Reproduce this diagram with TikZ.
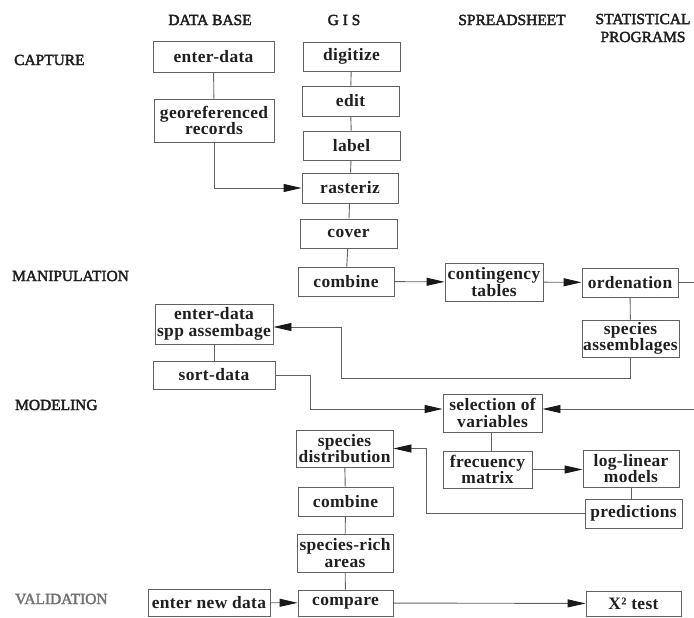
\documentclass[tikz,border=0pt]{standalone}
\usepackage{fontspec}
\setmainfont{Liberation Serif}
\newfontfamily\boxfont{Liberation Serif}[LetterSpace=2, BoldFont={Liberation Serif Bold}]
\newfontfamily\headfont{Liberation Serif}[FakeBold=2.5]
\usetikzlibrary{arrows.meta}
\begin{document}
\begin{tikzpicture}[x=1bp,y=-1bp,
  box/.style={draw=black!62, line width=0.9bp, inner sep=0pt, align=center,
    text=black!88, font=\boxfont\bfseries\fontsize{17.5}{16.8}\selectfont},
  bx/.style 2 args={box, minimum width=#1bp, minimum height=#2bp},
  head/.style={inner sep=0pt, align=center, text=black!88,
    font=\headfont\fontsize{15.5}{18}\selectfont},
  rowlab/.style={head, anchor=west},
  link/.style={draw=black!62, line width=0.9bp},
  arr/.style={link, -{Triangle[length=18bp,width=8bp,color=black!90]}}
]
\useasboundingbox (0,0) rectangle (694,618);
\clip (0,0) rectangle (694,618);

% column headings
\node[head] (hdb)  at (210,20) {DATA BASE};
\node[head] (hgis) at (344,20) {G I S};
\node[head] (hss)  at (512,20) {SPREADSHEET};
\node[head] (hst)  at (643,28) {STATISTICAL\\PROGRAMS};

% stage labels
\node[rowlab] (rcap) at (14,60)  {CAPTURE};
\node[rowlab] (rman) at (12,276) {MANIPULATION};
\node[rowlab] (rmod) at (15,405) {MODELING};
\node[rowlab, text=black!55] (rval) at (15,599) {VALIDATION};

% data base column
\node[bx={121}{31}] (ed1)  at (213.5,56.5) {enter-data};
\node[bx={120}{43}] (geo)  at (214,120.5)  {georeferenced\\records};
\node[bx={118}{40}] (eds)  at (214,324)    {enter-data\\spp assembage};
\node[bx={122}{28}] (sort) at (214,375)    {sort-data};
\node[bx={122}{27}] (enew) at (209,602.5)  {enter new data};

% GIS column
\node[bx={97}{29}] (dig)   at (351.5,56.5) {digitize};
\node[bx={97}{30}] (edit)  at (350.5,101)  {edit};
\node[bx={97}{29}] (lab)   at (351.5,145.5){label};
\node[bx={96}{30}] (rast)  at (350,188)    {rasteriz};
\node[bx={97}{29}] (cov)   at (348.5,233.5){cover};
\node[bx={96}{29}] (comb1) at (346,281.5)  {combine};
\node[bx={97}{37}] (sdist) at (344.5,448.5){species\\distribution};
\node[bx={95}{29}] (comb2) at (345.5,501.5){combine};
\node[bx={96}{38}] (srich) at (345,553)    {species-rich\\areas};
\node[bx={95}{26}] (comp)  at (345.5,603)  {compare};

% spreadsheet column
\node[bx={98}{38}] (cont) at (494,282)    {contingency\\tables};
\node[bx={99}{38}] (sel)  at (492.5,413)  {selection of\\variables};
\node[bx={89}{37}] (freq) at (487.5,469.5){frecuency\\matrix};

% statistical programs column
\node[bx={96}{29}] (ord)    at (630,282.5)  {ordenation};
\node[bx={97}{37}] (sppa)   at (630.5,338.5){species\\assemblages};
\node[bx={96}{37}] (loglin) at (631,468.5)  {log-linear\\models};
\node[bx={97}{29}] (pred)   at (633.5,513.5){predictions};
\node[bx={95}{25}] (chi)    at (633.5,603.5){X² test};

% corner points of the routed connectors
\coordinate (ja) at (341,378);
\coordinate (jb) at (310,0);
\coordinate (jc) at (698,0);
\coordinate (jd) at (426,0);

% capture
\draw[link] (ed1) -- (geo);
\draw[arr]  (geo.south) |- (rast.west);
\draw[link] (dig) -- (edit);
\draw[link] (edit) -- (lab);
\draw[link] (lab) -- (rast);
\draw[link] (rast) -- (cov);
\draw[link] (cov) -- (comb1);

% manipulation
\draw[arr]  (comb1) -- (cont);
\draw[arr]  (cont) -- (ord);
\draw[link] (ord) -- (sppa);
\draw[arr]  (sppa.south) |- (ja) |- ([yshift=-3bp]eds.east);
\draw[link] (eds) -- (sort);

% modeling
\draw[arr]  (sort.east) -- (sort.east -| jb) |- ([yshift=4bp]sel.west);
\draw[arr]  (ord.east) -- (ord.east -| jc) |- ([yshift=4bp]sel.east);
\draw[link] ([xshift=-1.5bp]sel.south) -- ([xshift=-1.5bp]sel.south |- freq.north);
\draw[arr]  (freq.east) -- (freq.east -| loglin.west);
\draw[link] (loglin.south) -- (loglin.south |- pred.north);
\draw[arr]  (pred.west) -- (pred.west -| jd) |- (sdist.east);
\draw[link] (sdist) -- (comb2);
\draw[link] (comb2) -- (srich);
\draw[link] (srich) -- (comp);

% validation
\draw[arr]  (enew) -- (comp);
\draw[arr]  (comp) -- (chi);
\end{tikzpicture}
\end{document}
